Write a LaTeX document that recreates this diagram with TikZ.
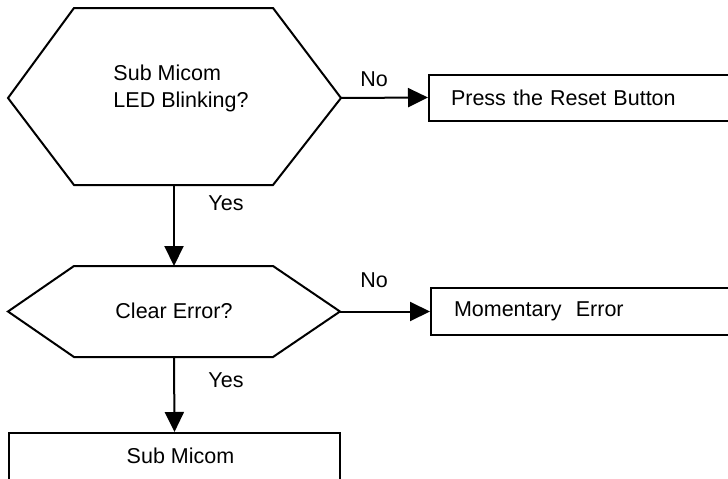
\documentclass[tikz,border=0pt]{standalone}
\usepackage{fontspec}
\setmainfont{Liberation Sans}
\usetikzlibrary{arrows.meta}
\tikzset{
  lbl/.style={font=\fontsize{21.5}{26}\selectfont, inner sep=0pt},
  boxnode/.style={draw, line width=2pt, font=\fontsize{21.5}{26}\selectfont, align=left, anchor=west, text width=290pt},
  flow/.style={line width=2pt, -{Triangle[length=20pt,width=19pt]}},
  hex/.style={draw, line width=2pt}
}
\begin{document}
\begin{tikzpicture}[x=1pt,y=-1pt]
\clip (0,0) rectangle (728,479);
\fill[white] (0,0) rectangle (728,479);
% hexagon 1
\coordinate (h1w) at (8,98);
\coordinate (h1nw) at (74,8);
\coordinate (h1ne) at (273,8);
\coordinate (h1e) at (341,98);
\coordinate (h1se) at (273,185);
\coordinate (h1sw) at (74,185);
\coordinate (h1s) at (174,185);
\draw[hex] (h1w) -- (h1nw) -- (h1ne) -- (h1e) -- (h1se) -- (h1sw) -- cycle;
\node[lbl, align=left] (t1) at (181,88) {Sub Micom\\[1pt]LED Blinking?};
% hexagon 2
\coordinate (h2w) at (8,311.5);
\coordinate (h2nw) at (74,266);
\coordinate (h2n) at (174,266);
\coordinate (h2ne) at (273,266);
\coordinate (h2e) at (340,311.5);
\coordinate (h2se) at (273,357);
\coordinate (h2sw) at (74,357);
\coordinate (h2s) at (174,357);
\draw[hex] (h2w) -- (h2nw) -- (h2ne) -- (h2e) -- (h2se) -- (h2sw) -- cycle;
\node[lbl] (t2) at (174,311) {Clear Error?};
% boxes
\node[boxnode, minimum height=46pt, inner xsep=22pt] (b1) at (428,97.5) {Press the Reset Button};
\node[boxnode, minimum height=47pt, inner xsep=23pt] (b2) at (430,311.5) {Momentary~~Error};
\node[draw, line width=2pt, font=\fontsize{21.5}{26}\selectfont, anchor=north, minimum width=331pt, inner ysep=0pt, text height=30.5pt, text depth=70pt] (b3) at (174.5,432) {\hspace*{12pt}Sub Micom};
% connectors
\draw[flow] (h1e) -- (b1.west);
\draw[flow] (h1s) -- (h2n);
\draw[flow] (h2e) -- (b2.west);
\draw[flow] (h2s) -- (b3.north);
% labels
\node[lbl] (no1) at (374,79) {No};
\node[lbl] (no2) at (374,280) {No};
\node[lbl] (yes1) at (226,203) {Yes};
\node[lbl] (yes2) at (226,380) {Yes};
\end{tikzpicture}
\end{document}
